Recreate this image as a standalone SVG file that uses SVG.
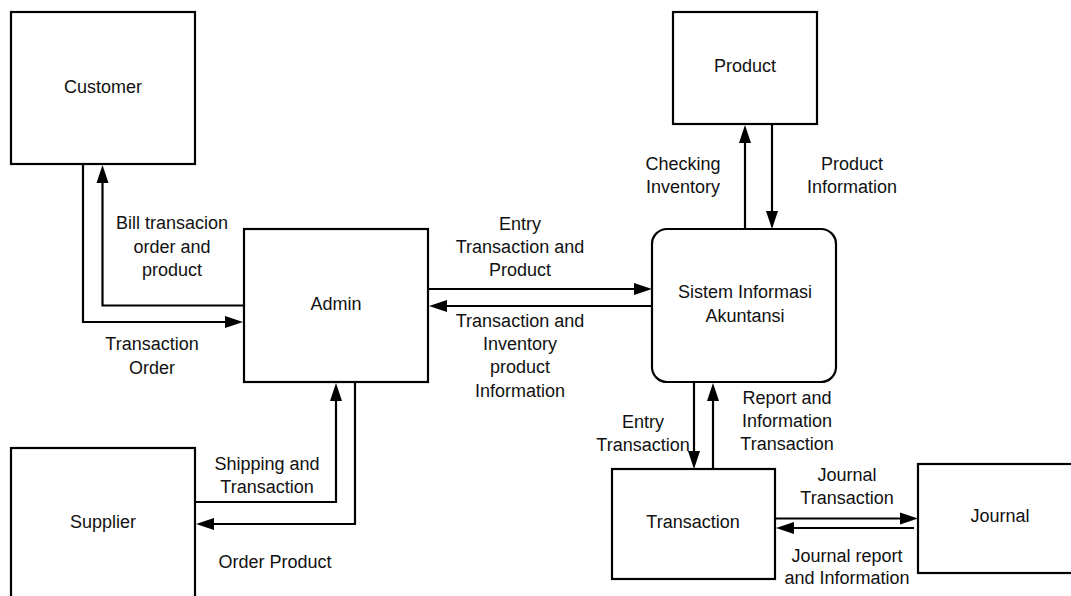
<svg xmlns="http://www.w3.org/2000/svg" width="1071" height="596" viewBox="0 0 1071 596">
  <style>
    .box { fill: #ffffff; stroke: #000000; stroke-width: 2.2; }
    .flow { fill: none; stroke: #000000; stroke-width: 2.2; marker-end: url(#head); }
    text { font-family: "Liberation Sans", Arial, sans-serif; font-size: 18px; fill: #111111; text-anchor: middle; }
  </style>
  <defs>
    <marker id="head" markerUnits="userSpaceOnUse" markerWidth="18" markerHeight="12" refX="0" refY="6" orient="auto" overflow="visible">
      <path d="M0,0 L18,6 L0,12 z" fill="#000000"/>
    </marker>
  </defs>
  <rect width="1071" height="596" fill="#ffffff"/>

  <!-- data flows -->
  <g id="connectors">
    <path class="flow" d="M244,305.5 H102.5 V183"/>
    <path class="flow" d="M83,164 V322 H225"/>
    <path class="flow" d="M428,289 H634"/>
    <path class="flow" d="M652,306 H447"/>
    <path class="flow" d="M745,229 V143"/>
    <path class="flow" d="M772,124 V211"/>
    <path class="flow" d="M195,502 H336 V401"/>
    <path class="flow" d="M355,382 V524 H214"/>
    <path class="flow" d="M694,382 V451"/>
    <path class="flow" d="M713,469 V401"/>
    <path class="flow" d="M775,518.5 H900"/>
    <path class="flow" d="M914,528 H794"/>
  </g>

  <!-- flow labels -->
  <g id="labels">
    <text x="172" y="229">Bill transacion</text>
    <text x="172" y="252.5">order and</text>
    <text x="172" y="276">product</text>
    <text x="152" y="350">Transaction</text>
    <text x="152" y="374">Order</text>
    <text x="520" y="230">Entry</text>
    <text x="520" y="253">Transaction and</text>
    <text x="520" y="276">Product</text>
    <text x="520" y="327">Transaction and</text>
    <text x="520" y="350">Inventory</text>
    <text x="520" y="373">product</text>
    <text x="520" y="397">Information</text>
    <text x="683" y="170">Checking</text>
    <text x="683" y="193">Inventory</text>
    <text x="852" y="170">Product</text>
    <text x="852" y="193">Information</text>
    <text x="267" y="470">Shipping and</text>
    <text x="267" y="493">Transaction</text>
    <text x="275" y="568">Order Product</text>
    <text x="643" y="428">Entry</text>
    <text x="643" y="451">Transaction</text>
    <text x="787" y="404">Report and</text>
    <text x="787" y="427">Information</text>
    <text x="787" y="450">Transaction</text>
    <text x="847" y="481">Journal</text>
    <text x="847" y="504">Transaction</text>
    <text x="847" y="562">Journal report</text>
    <text x="847" y="584">and Information</text>
  </g>

  <!-- entities and process -->
  <g id="customer">
    <rect class="box" x="11" y="12" width="184" height="152"/>
    <text x="103" y="92.5">Customer</text>
  </g>
  <g id="admin">
    <rect class="box" x="244" y="229" width="184" height="153"/>
    <text x="336" y="310">Admin</text>
  </g>
  <g id="product">
    <rect class="box" x="673" y="12" width="144" height="112"/>
    <text x="745" y="71.5">Product</text>
  </g>
  <g id="sistem-informasi-akuntansi">
    <rect class="box" x="652" y="229" width="184" height="153" rx="15" ry="15"/>
    <text x="745" y="298">Sistem Informasi</text>
    <text x="745" y="321.5">Akuntansi</text>
  </g>
  <g id="supplier">
    <rect class="box" x="11" y="448" width="184" height="160"/>
    <text x="103" y="527.5">Supplier</text>
  </g>
  <g id="transaction">
    <rect class="box" x="612" y="469" width="163" height="110"/>
    <text x="693" y="527.5">Transaction</text>
  </g>
  <g id="journal">
    <rect class="box" x="918" y="464" width="170" height="109"/>
    <text x="1000" y="521.5">Journal</text>
  </g>
</svg>
